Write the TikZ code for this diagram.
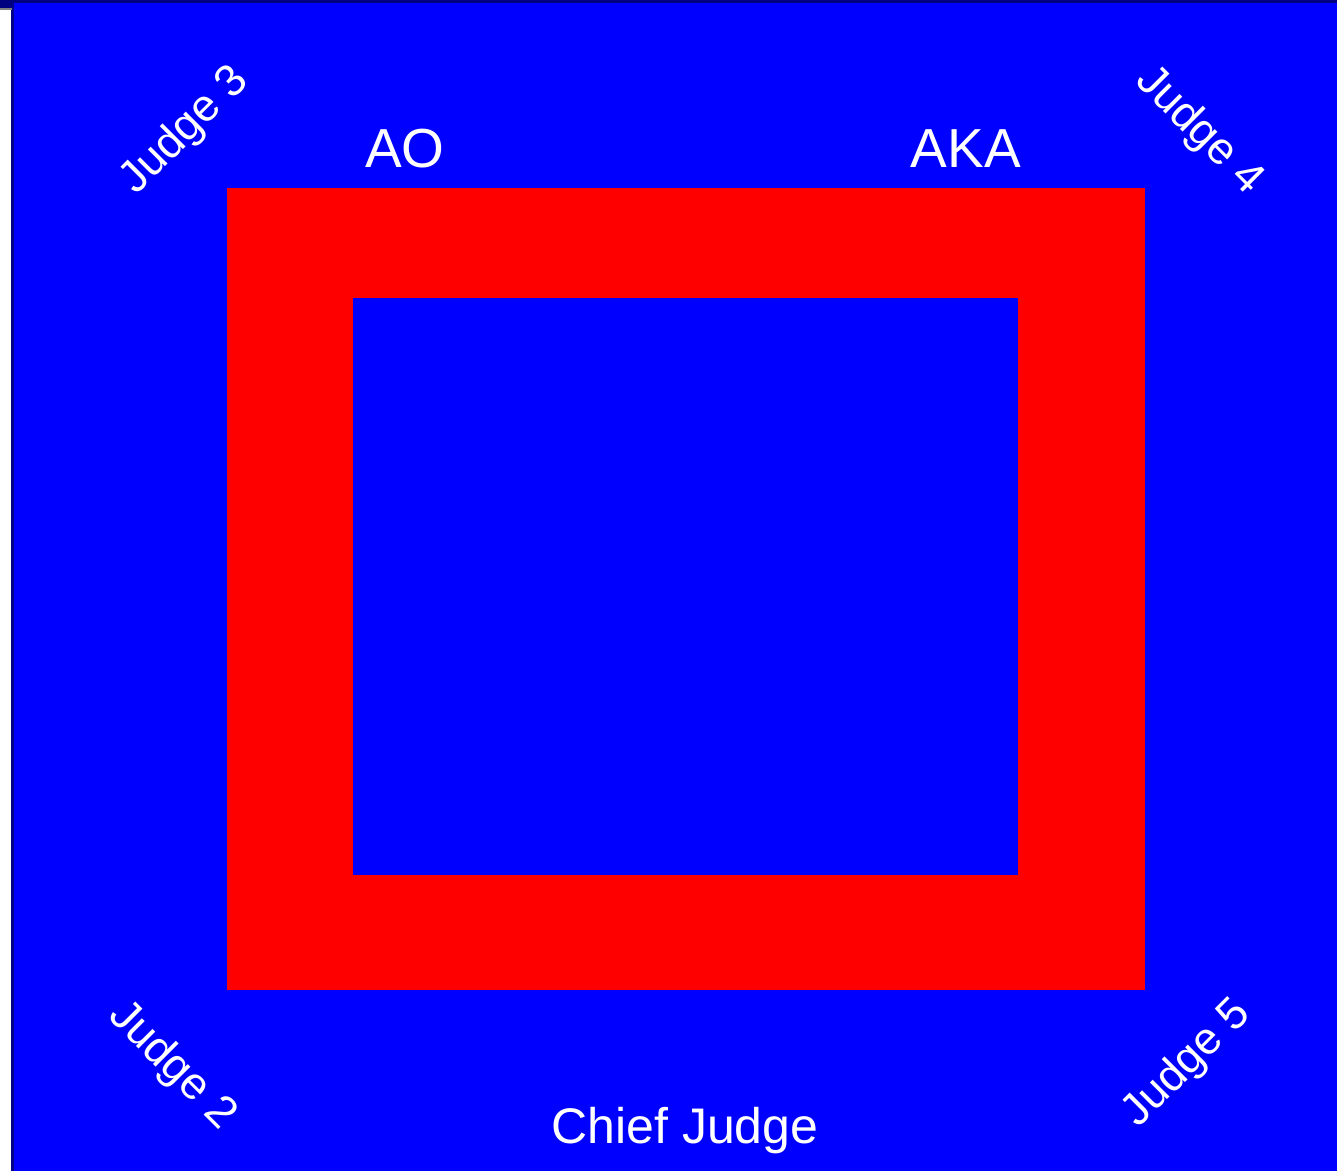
\documentclass[tikz,border=0pt]{standalone}
\usepackage{fontspec}
\setmainfont{Liberation Sans}
\begin{document}
\begin{tikzpicture}[x=1pt,y=-1pt,
  lbl/.style={text=white,inner sep=0pt,font=\fontsize{55}{55}\selectfont},
  jlbl/.style={text=white,inner sep=0pt,font=\fontsize{45}{45}\selectfont}]
\useasboundingbox (0,0) rectangle (1337,1171);
% page edges
\fill[white] (0,0) rectangle (12,1171);
\fill[blue] (12,0) rectangle (1337,1171);
\fill[blue!55!black] (11,3) rectangle (14,1171);
\fill[blue!50!black] (0,0) rectangle (1337,3);
\fill[blue!50!black] (0,0) rectangle (12,8);
\fill[gray] (0,8) rectangle (12,10);
% mat
\fill[red] (227,188) rectangle (1145,990);
\fill[blue] (353,298) rectangle (1018,875);
% labels
\node[lbl] (ao) at (405,149) {AO};
\node[lbl] (aka) at (966,149) {AKA};
\node[lbl,font=\fontsize{50}{50}\selectfont] (chief) at (685,1131) {Chief Judge};
\node[jlbl,rotate=45] (j3) at (185,131) {Judge 3};
\node[jlbl,rotate=-45] (j4) at (1199,131) {Judge 4};
\node[jlbl,rotate=-45] (j2) at (172,1066) {Judge 2};
\node[jlbl,rotate=45] (j5) at (1187,1064) {Judge 5};
\end{tikzpicture}
\end{document}
